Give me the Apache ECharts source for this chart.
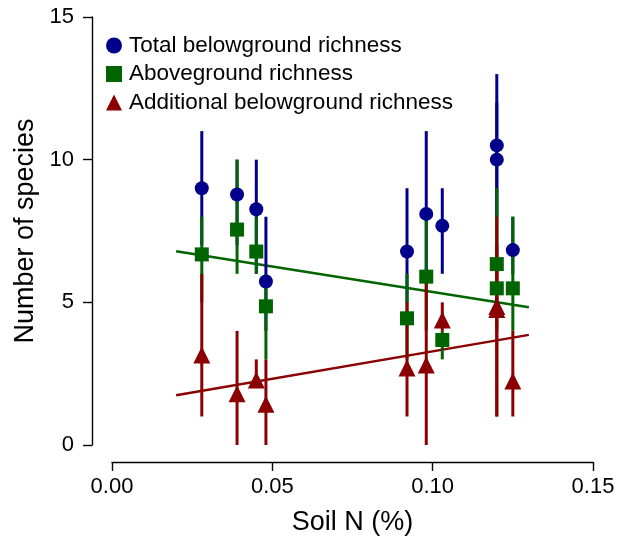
<html>
  <head>
    <meta charset="utf-8">
    <style>
      body { margin: 0; background: #fff; }
      #main { width: 624px; height: 541px; }
    </style>
  </head>
  <body>
    <div id="main"></div>
  </body>
  <script src="https://cdn.jsdelivr.net/npm/echarts@6/dist/echarts.min.js"></script>
  <script>

// soil N per site (%)
var soilN = [0.028, 0.039, 0.045, 0.048, 0.092, 0.098, 0.103, 0.120, 0.120, 0.125];

// total belowground richness
var total     = [9.0, 8.78, 8.26, 5.73, 6.78, 8.1, 7.68, 10.5, 10.0, 6.83];
var totalLow  = [7, 7, 6, 4, 5, 6, 6, 8, 8, 6];
var totalHigh = [11, 10, 10, 8, 9, 11, 9, 13, 12, 8];

// aboveground richness
var above     = [6.68, 7.55, 6.78, 4.86, 4.44, 5.9, 3.68, 6.34, 5.49, 5.49];
var aboveLow  = [5, 6, 6, 3, 3, 4, 3, 5, 4, 4];
var aboveHigh = [8, 10, 8, 6, 6, 8, 4, 9, 8, 8];

// additional belowground richness
var extra     = [3.15, 1.8, 2.28, 1.43, 2.7, 2.8, 4.38, 4.85, 4.75, 2.24];
var extraLow  = [1, 0, 2, 0, 1, 0, 4, 1, 1, 1];
var extraHigh = [6, 4, 3, 3, 5, 6, 5, 8, 7, 4];

// fitted lines
var fitX = [0.02, 0.13];
var aboveFit = [6.79, 4.83];
var extraFit = [1.74, 3.86];

var xTicks = [0, 0.05, 0.10, 0.15];
var yTicks = [0, 5, 10, 15];

var BLUE = '#00008B', GREEN = '#006400', RED = '#8B0000';
var FONT = 'Liberation Sans';

function errBars(name, low, high, color, z) {
  return {
    type: 'custom',
    name: name,
    z: z,
    silent: true,
    data: soilN.map(function (x, i) { return [x, low[i], high[i]]; }),
    encode: { x: 0, y: [1, 2] },
    renderItem: function (params, api) {
      var p1 = api.coord([api.value(0), api.value(1)]);
      var p2 = api.coord([api.value(0), api.value(2)]);
      return {
        type: 'line',
        shape: { x1: p1[0], y1: p1[1], x2: p2[0], y2: p2[1] },
        style: { stroke: color, lineWidth: 3 }
      };
    }
  };
}

function points(name, vals, symbol, size, color) {
  return {
    type: 'scatter',
    name: name,
    z: 10,
    symbol: symbol,
    symbolSize: size,
    itemStyle: { color: color, opacity: 1 },
    data: soilN.map(function (x, i) { return [x, vals[i]]; })
  };
}

function fitLine(vals, color) {
  return {
    type: 'line',
    z: 1,
    silent: true,
    showSymbol: false,
    lineStyle: { color: color, width: 2.5 },
    data: fitX.map(function (x, i) { return [x, vals[i]]; })
  };
}

var axisStyle = { lineStyle: { color: '#000', width: 1.4 } };

var chart = echarts.init(document.getElementById('main'));
chart.setOption({
  animation: false,
  backgroundColor: '#fff',
  textStyle: { fontFamily: FONT },
  grid: { left: 112, right: 31, top: 17, bottom: 94 },
  legend: {
    orient: 'vertical',
    left: 101,
    top: 29,
    itemWidth: 16,
    itemHeight: 16,
    itemGap: 5.5,
    data: [
      { name: 'Total belowground richness', icon: 'circle' },
      { name: 'Aboveground richness', icon: 'rect' },
      { name: 'Additional belowground richness', icon: 'triangle' }
    ],
    textStyle: { fontSize: 22.5, color: '#000', fontFamily: FONT, padding: [0, 0, 0, 2] }
  },
  xAxis: {
    type: 'value',
    min: xTicks[0],
    max: xTicks[xTicks.length - 1],
    interval: 0.05,
    offset: 17,
    name: 'Soil N (%)',
    nameLocation: 'middle',
    nameGap: 47,
    nameTextStyle: { fontSize: 27, color: '#000', fontFamily: FONT },
    axisLine: { onZero: false, lineStyle: axisStyle.lineStyle },
    axisTick: { length: 9, lineStyle: axisStyle.lineStyle },
    axisLabel: { fontSize: 22, color: '#000', margin: 14, formatter: function (v) { return v.toFixed(2); } },
    splitLine: { show: false }
  },
  yAxis: {
    type: 'value',
    min: yTicks[0],
    max: yTicks[yTicks.length - 1],
    interval: 5,
    offset: 20,
    name: 'Number of species',
    nameLocation: 'middle',
    nameGap: 49,
    nameTextStyle: { fontSize: 27, color: '#000', fontFamily: FONT },
    axisLine: { onZero: false, lineStyle: axisStyle.lineStyle },
    axisTick: { length: 9, lineStyle: axisStyle.lineStyle },
    axisLabel: { fontSize: 22, color: '#000', margin: 18 },
    splitLine: { show: false }
  },
  series: [
    fitLine(aboveFit, GREEN),
    fitLine(extraFit, RED),
    errBars('totalErr', totalLow, totalHigh, BLUE, 2),
    errBars('aboveErr', aboveLow, aboveHigh, GREEN, 3),
    errBars('extraErr', extraLow, extraHigh, RED, 4),
    points('Total belowground richness', total, 'circle', 14, BLUE),
    points('Aboveground richness', above, 'rect', 14, GREEN),
    points('Additional belowground richness', extra, 'triangle', 17, RED)
  ]
});

  </script>
</html>
